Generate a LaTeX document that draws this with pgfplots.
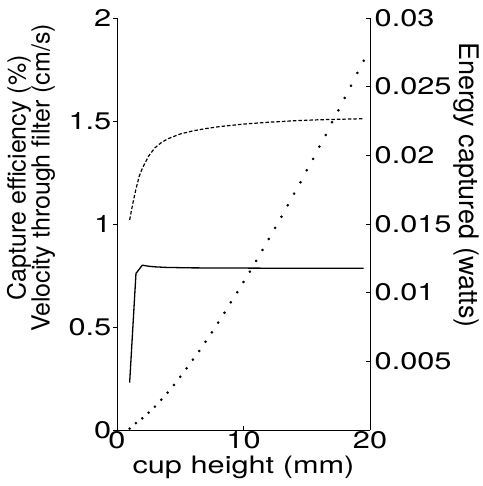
\documentclass[border=0pt]{standalone}
\usepackage{fontspec}
\setmainfont[FakeStretch=1.28]{TeX Gyre Heros}
\newfontfamily\rotfont{TeX Gyre Heros}
\usepackage{pgfplots}
\pgfplotsset{compat=1.18}

\pgfplotsset{
  twin/.style={
    scale only axis,
    width=253pt, height=412pt,
    xmin=0, xmax=20,
    tick label style={font=\fontsize{24}{26}\selectfont},
    x axis line style={-}, y axis line style={-},
    axis line style={line width=0.9pt},
    tick style={black, line width=0.8pt},
    major tick length=4pt,
    ticklabel style={inner sep=1.5pt},
    scaled y ticks=false,
  }
}

\begin{document}
\begin{tikzpicture}
\begin{axis}[
    twin, name=main,
    ymin=0, ymax=2,
    axis x line*=bottom, axis y line*=left,
    xtick={0,10,20}, xticklabels={0,10,20},
    ytick={0,0.5,1,1.5,2}, yticklabels={0,0.5,1,1.5,2},
    xtick align=inside, ytick align=outside,
    xlabel={cup height (mm)},
    xlabel style={font=\fontsize{24}{26}\selectfont, inner sep=0pt, yshift=-5pt},
    ylabel={Capture efficiency (\%)\\Velocity through filter (cm/s)},
    ylabel style={font=\rotfont\fontsize{25}{24}\selectfont, align=center,
      at={(rel axis cs:0,0.612)}, anchor=center, yshift=86pt},
]
% capture efficiency
\addplot[black, line width=1.3pt] coordinates {
  (1,0.23) (1.5,0.76) (2,0.80) (2.5,0.795) (3,0.792) (4,0.789)
  (6,0.787) (10,0.786) (14,0.785) (19.5,0.785)
};
% velocity through filter
\addplot[black, line width=1.2pt, dash pattern=on 3.5pt off 2pt] coordinates {
  (1,1.02) (1.25,1.10) (1.5,1.17) (1.75,1.23) (2,1.27) (2.5,1.33)
  (3,1.37) (3.5,1.395) (4,1.413) (5,1.437) (6,1.452) (7,1.463)
  (8,1.472) (10,1.485) (12,1.494) (14,1.501) (16,1.506) (18,1.509)
  (19.5,1.511)
};
\end{axis}
\begin{axis}[
    twin,
    ymin=0, ymax=0.03,
    axis x line=none, axis y line*=right,
    ytick={0.005,0.01,0.015,0.02,0.025,0.03},
    yticklabels={0.005,0.01,0.015,0.02,0.025,0.03},
    ytick align=inside,
    yticklabel style={xshift=3pt},
    ylabel={Energy captured (watts)},
    ylabel style={font=\rotfont\fontsize{27}{28}\selectfont,
      at={(rel axis cs:1,0.595)}, anchor=center, rotate=180, yshift=96pt},
]
% energy captured
\addplot[black, only marks, mark=*, mark size=1.1pt] coordinates {
  (1,0.0001) (1.5,0.0005) (2,0.00085) (2.5,0.00126) (3,0.0017)
  (3.5,0.00221) (4,0.00272) (4.5,0.00328) (5,0.00388) (5.5,0.00449)
  (6,0.00512) (6.5,0.00575) (7,0.00643) (7.5,0.00711) (8,0.00782)
  (8.5,0.00854) (9,0.0093) (9.5,0.01003) (10,0.01078) (10.5,0.01153)
  (11,0.01231) (11.5,0.01311) (12,0.01391) (12.5,0.01471) (13,0.01553)
  (13.5,0.01636) (14,0.01721) (14.5,0.01804) (15,0.01891) (15.5,0.01974)
  (16,0.02063) (16.5,0.02148) (17,0.02241) (17.5,0.02328) (18,0.02418)
  (18.5,0.02507) (19,0.026) (19.5,0.02689)
};
\end{axis}
\pgfresetboundingbox
\path (main.south west) +(-117pt,-56pt) rectangle +(365pt,430pt);
\end{tikzpicture}
\end{document}
